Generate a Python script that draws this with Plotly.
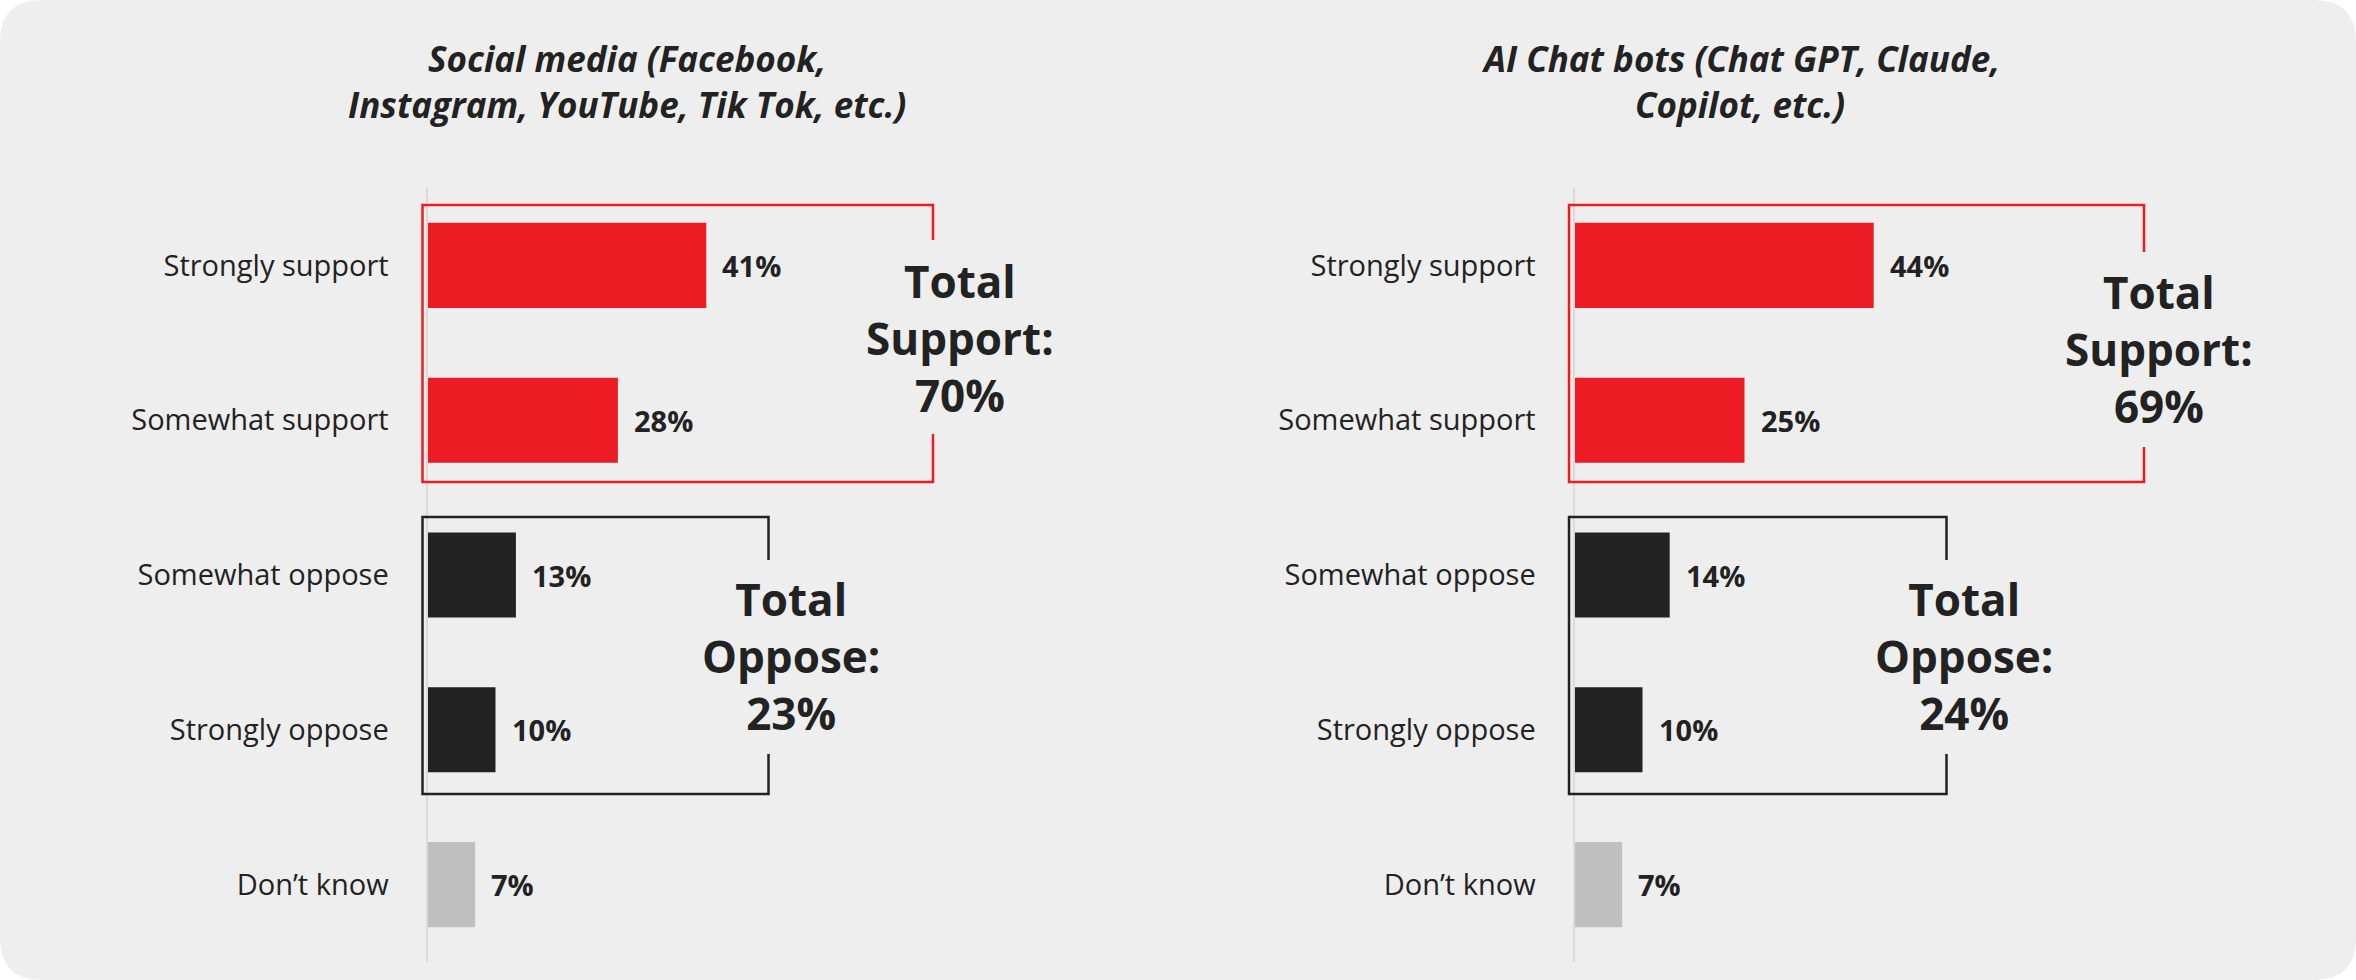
import plotly.graph_objects as go

# ---------------- data ----------------
categories = ["Strongly support", "Somewhat support", "Somewhat oppose",
              "Strongly oppose", "Don’t know"]
social_media = [41, 28, 13, 10, 7]
ai_chatbots = [44, 25, 14, 10, 7]
bar_colors = ["#ED1C24", "#ED1C24", "#222222", "#222222", "#BFBFBF"]
title_social = ["Social media (Facebook,", "Instagram, YouTube, Tik Tok, etc.)"]
title_ai = ["AI Chat bots (Chat GPT, Claude,", "Copilot, etc.)"]
total_support = [70, 69]
total_oppose = [23, 24]

# ---------------- layout constants (pixels) ----------------
W, H = 2356, 980
FONT = "Open Sans"
TXT = "#222222"
RED = "#ED1C24"


def px(x):
    return x / W


def py(y):
    return 1 - y / H


panels = [
    dict(values=social_media, title=title_social, x0=427.5, title_cx=627,
         sup=total_support[0], opp=total_oppose[0],
         red=(422.5, 205, 933, 482, 240, 434), blk=(422.5, 517, 768.5, 794, 560, 754),
         sup_c=(960, 338), opp_c=(791, 656)),
    dict(values=ai_chatbots, title=title_ai, x0=1574.5, title_cx=1740,
         sup=total_support[1], opp=total_oppose[1],
         red=(1569, 205, 2144, 482, 252, 447), blk=(1569, 517, 1946.5, 794, 560, 754),
         sup_c=(2159, 349), opp_c=(1964, 656)),
]
PX_PER_PCT = 6.8
Y_TOP, Y_BOT = 188, 962

fig = go.Figure()
shapes = []
annotations = []

# background rounded panel
r = 42
bg_path = (f"M {px(r)} {py(0)} L {px(W - r)} {py(0)} Q {px(W)} {py(0)} {px(W)} {py(r)} "
           f"L {px(W)} {py(H - r)} Q {px(W)} {py(H)} {px(W - r)} {py(H)} "
           f"L {px(r)} {py(H)} Q {px(0)} {py(H)} {px(0)} {py(H - r)} "
           f"L {px(0)} {py(r)} Q {px(0)} {py(0)} {px(r)} {py(0)} Z")
shapes.append(dict(type="path", xref="paper", yref="paper", path=bg_path,
                   fillcolor="#EEEEEE", line=dict(width=0), layer="below"))

for i, p in enumerate(panels):
    n = i + 1
    xa = "x" if n == 1 else f"x{n}"
    ya = "y" if n == 1 else f"y{n}"
    fig.add_trace(go.Bar(
        x=p["values"], y=categories, orientation="h",
        marker=dict(color=bar_colors, line=dict(width=0)),
        xaxis=xa, yaxis=ya, hoverinfo="skip", showlegend=False,
    ))
    width_px = 100 * PX_PER_PCT
    fig.update_layout(**{
        ("xaxis" if n == 1 else f"xaxis{n}"): dict(
            domain=[px(p["x0"]), px(p["x0"] + width_px)], range=[0, 100],
            visible=False, anchor=ya),
        ("yaxis" if n == 1 else f"yaxis{n}"): dict(
            domain=[py(Y_BOT), py(Y_TOP)], type="category",
            categoryorder="array", categoryarray=categories,
            range=[4.5, -0.5], anchor=xa,
            showline=True, linecolor="#DADADA", linewidth=2,
            showgrid=False, zeroline=False,
            ticks="outside", ticklen=31, tickcolor="rgba(0,0,0,0)",
            tickfont=dict(family=FONT, size=29, color=TXT)),
    })
    # value labels
    for c, v in zip(categories, p["values"]):
        annotations.append(dict(
            x=v, y=c, xref=xa, yref=ya, text=f"<b>{v}%</b>", showarrow=False,
            xanchor="left", yanchor="middle", xshift=14,
            font=dict(family=FONT, size=29, color=TXT)))
    # titles
    for j, line in enumerate(p["title"]):
        annotations.append(dict(
            x=px(p["title_cx"]), y=py(58 + 47 * j), xref="paper", yref="paper",
            text=f"<b><i>{line}</i></b>", showarrow=False,
            xanchor="center", yanchor="middle",
            font=dict(family=FONT, size=35, color=TXT)))
    # brackets
    for (l, t, rr, b, g1, g2), col in ((p["red"], RED), (p["blk"], "#222222")):
        path = (f"M {px(rr)} {py(g1)} L {px(rr)} {py(t)} L {px(l)} {py(t)} "
                f"L {px(l)} {py(b)} L {px(rr)} {py(b)} L {px(rr)} {py(g2)}")
        shapes.append(dict(type="path", xref="paper", yref="paper", path=path,
                           line=dict(color=col, width=2.5)))
    # totals
    annotations.append(dict(
        x=px(p["sup_c"][0]), y=py(p["sup_c"][1]), xref="paper", yref="paper",
        text=f"<b>Total<br>Support:<br>{p['sup']}%</b>", showarrow=False,
        xanchor="center", yanchor="middle", align="center",
        font=dict(family=FONT, size=44, color=TXT)))
    annotations.append(dict(
        x=px(p["opp_c"][0]), y=py(p["opp_c"][1]), xref="paper", yref="paper",
        text=f"<b>Total<br>Oppose:<br>{p['opp']}%</b>", showarrow=False,
        xanchor="center", yanchor="middle", align="center",
        font=dict(family=FONT, size=44, color=TXT)))

fig.update_layout(
    width=W, height=H, margin=dict(l=0, r=0, t=0, b=0),
    paper_bgcolor="white", plot_bgcolor="rgba(0,0,0,0)",
    bargap=0.45, shapes=shapes, annotations=annotations,
    font=dict(family=FONT, color=TXT),
)

fig.write_html("out.html", config={"displayModeBar": False},
               post_script="document.body.style.margin='0';document.body.style.overflow='hidden';")
